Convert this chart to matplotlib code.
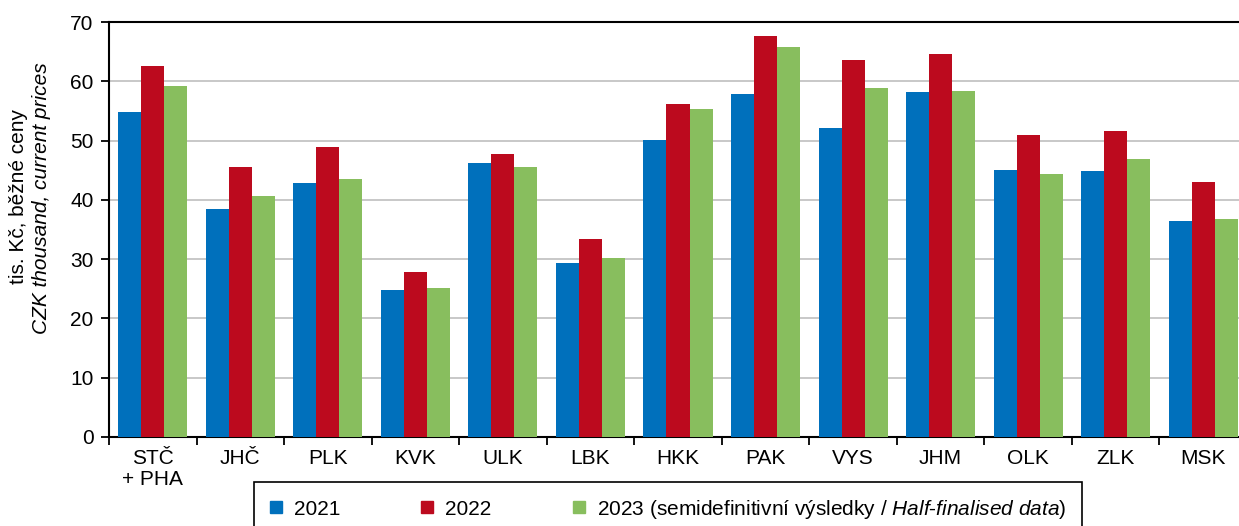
import matplotlib
matplotlib.use("Agg")
import matplotlib.pyplot as plt
from matplotlib.lines import Line2D
import numpy as np

plt.rcParams['font.family'] = ['Liberation Sans', 'DejaVu Sans']
plt.rcParams['mathtext.fontset'] = 'custom'
plt.rcParams['mathtext.it'] = 'Liberation Sans:italic'
plt.rcParams['mathtext.rm'] = 'Liberation Sans'

categories = ["STČ\n+ PHA", "JHČ", "PLK", "KVK", "ULK", "LBK", "HKK", "PAK", "VYS", "JHM", "OLK", "ZLK", "MSK"]
v2021 = [54.9, 38.4, 42.8, 24.8, 46.2, 29.3, 50.1, 57.8, 52.2, 58.2, 45.0, 44.9, 36.4]
v2022 = [62.6, 45.6, 49.0, 27.8, 47.8, 33.4, 56.2, 67.6, 63.6, 64.6, 51.0, 51.6, 43.0]
v2023 = [59.2, 40.7, 43.5, 25.2, 45.5, 30.2, 55.3, 65.7, 58.9, 58.3, 44.4, 46.9, 36.8]
series_labels = ["2021", "2022",
                 r"2023 (semidefinitivní výsledky / $\it{Half}$-$\it{finalised\ data}$)"]
colors = ["#0070BC", "#BC0A1E", "#88BE5E"]
yticks = [0, 10, 20, 30, 40, 50, 60, 70]

FS = 15
W, H = 1239, 526
fig = plt.figure(figsize=(W / 100, H / 100), dpi=100)
ax = fig.add_axes([109 / W, 1 - 437 / H, (1247 - 109) / W, (437 - 22) / H])

x = np.arange(len(categories))
bw = 0.263
for i, (vals, c) in enumerate(zip([v2021, v2022, v2023], colors)):
    ax.bar(x + (i - 1) * bw, vals, width=bw, color=c, edgecolor='none', zorder=3)

ax.set_xlim(-0.5, len(categories) - 0.5)
ax.set_ylim(0, 70)
ax.set_yticks(yticks)
ax.yaxis.grid(True, color='#c8c8c8', linewidth=1.4, zorder=0)
ax.set_axisbelow(True)

ax.set_xticks(x)
ax.set_xticklabels(categories, fontsize=FS, linespacing=1.1)
ax.set_xticks(np.arange(len(categories) + 1) - 0.5, minor=True)
ax.tick_params(axis='x', which='major', length=0, pad=9)
ax.tick_params(axis='x', which='minor', length=6, width=1.3, direction='out')
ax.tick_params(axis='y', length=6, width=1.3, direction='out', labelsize=FS, pad=5)

for s in ['left', 'bottom', 'top']:
    ax.spines[s].set_linewidth(1.5)
    ax.spines[s].set_color('black')
ax.spines['right'].set_visible(False)

fig.text(19 / W, 1 - 196 / H, "tis. Kč, běžné ceny", rotation=90, ha='center', va='center', fontsize=FS)
fig.text(42 / W, 1 - 198 / H, "CZK thousand, current prices", rotation=90, ha='center', va='center',
         fontsize=FS, style='italic')

handles = [Line2D([], [], marker='s', linestyle='none', markersize=8, color=c, markeredgecolor=c) for c in colors]
leg = fig.legend(handles, series_labels, loc='upper left', bbox_to_anchor=(254 / W, 1 - 482 / H),
                 ncol=3, fontsize=FS, frameon=True, fancybox=False, framealpha=1,
                 edgecolor='black', borderpad=0.75, handlelength=0.6, handletextpad=0.55,
                 columnspacing=3.9, borderaxespad=0)
leg.get_frame().set_linewidth(1.2)

fig.savefig("out.png", dpi=100)
